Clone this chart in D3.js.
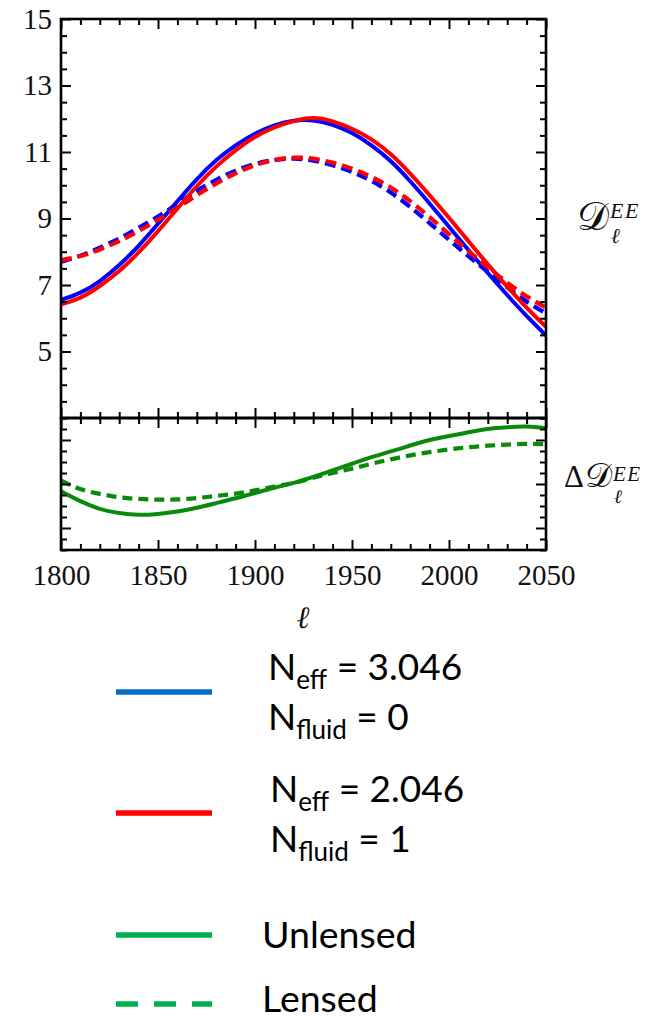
<!DOCTYPE html>
<html><head><meta charset="utf-8">
<script src="https://cdn.jsdelivr.net/npm/d3@7"></script>
<style>
html,body{margin:0;padding:0;background:#fff;}
svg{display:block;}
</style></head>
<body>
<svg id="chart" width="671" height="1020"></svg>
<script>
// ---------- DATA ----------
const ells = [1800,1810,1820,1830,1840,1850,1860,1870,1880,1890,1900,1910,1920,1930,1940,1950,1960,1970,1980,1990,2000,2010,2020,2030,2040,2050];
// D_l^EE, N_eff = 3.046 (blue)
const blueUnlensed = [6.55,6.77,7.12,7.60,8.18,8.84,9.52,10.18,10.75,11.20,11.55,11.80,11.94,11.95,11.82,11.57,11.20,10.72,10.12,9.45,8.75,8.05,7.36,6.70,6.07,5.48];
const blueLensed   = [7.70,7.88,8.12,8.40,8.72,9.06,9.44,9.83,10.16,10.44,10.64,10.76,10.80,10.74,10.60,10.40,10.13,9.78,9.35,8.86,8.36,7.87,7.40,6.93,6.50,6.15];
// D_l^EE, N_eff = 2.046, N_fluid = 1 (red)
const redUnlensed  = [6.42,6.62,6.97,7.42,7.98,8.62,9.30,9.97,10.56,11.05,11.45,11.74,11.93,12.02,11.92,11.70,11.38,10.93,10.35,9.70,9.02,8.32,7.62,6.95,6.32,5.74];
const redLensed    = [7.75,7.87,8.07,8.32,8.62,8.96,9.32,9.70,10.05,10.36,10.60,10.76,10.83,10.80,10.68,10.50,10.25,9.93,9.52,9.04,8.53,8.02,7.53,7.07,6.66,6.32];
// Delta D_l^EE (green)
const diffUnlensed = [-0.33,-0.78,-1.13,-1.32,-1.40,-1.36,-1.25,-1.08,-0.87,-0.65,-0.41,-0.17,0.05,0.32,0.62,0.92,1.22,1.48,1.75,2.00,2.18,2.35,2.50,2.58,2.61,2.53];
const diffLensed   = [0.15,-0.23,-0.45,-0.60,-0.68,-0.71,-0.70,-0.64,-0.54,-0.44,-0.29,-0.12,0.05,0.28,0.50,0.70,0.92,1.12,1.30,1.45,1.57,1.67,1.74,1.79,1.82,1.81];

const xMajorTicks = [1800,1850,1900,1950,2000,2050];
const yMajorTicks = [5,7,9,11,13,15];
const diffMajorTicks = [-2,0,2];

const legendColors = ["#0070C0","#FF0000","#00B050","#00B050"];
const legendDash = [null,null,null,"22,16"];
const legendMain1 = ["N","N"];
const legendSub1 = ["eff","eff"];
const legendRest1 = [" = 3.046"," = 2.046"];
const legendSub2 = ["fluid","fluid"];
const legendRest2 = [" = 0"," = 1"];
const legendWords = ["Unlensed","Lensed"];

// ---------- LAYOUT ----------
const svg = d3.select("#chart");
const L = 61, R = 546, T1 = 19, B1 = 418, T2 = 418, B2 = 550;
const x = d3.scaleLinear().domain([1800,2050]).range([L,R]);
const y1 = d3.scaleLinear().domain([3,15]).range([B1,T1]);
const y2 = d3.scaleLinear().domain([-3,3]).range([B2,T2]);

const serif = "'Liberation Serif','DejaVu Serif',serif";
const tickFont = 29;

svg.append("defs").call(d=>{
  d.append("clipPath").attr("id","c1").append("rect").attr("x",L).attr("y",T1).attr("width",R-L).attr("height",B1-T1);
  d.append("clipPath").attr("id","c2").append("rect").attr("x",L).attr("y",T2).attr("width",R-L).attr("height",B2-T2);
});

function styleAxis(g){
  g.select(".domain").remove();
  g.selectAll("line").attr("stroke","#000").attr("stroke-width",2);
  g.selectAll("text").attr("font-family",serif).attr("font-size",tickFont).attr("fill","#111");
}
const xMinor = d3.range(1800,2051,10).filter(v=>v%50!==0);
const y1Minor = d3.range(3,15.01,0.5).filter(v=>!yMajorTicks.includes(v));
const y2Minor = d3.range(-3,3.01,0.5).filter(v=>!diffMajorTicks.includes(v));

function xAxes(yTop, yBot, labels){
  svg.append("g").attr("transform",`translate(0,${yTop})`)
    .call(d3.axisTop(x).tickValues(xMajorTicks).tickSizeInner(-10).tickSizeOuter(0).tickFormat("")).call(styleAxis);
  svg.append("g").attr("transform",`translate(0,${yTop})`)
    .call(d3.axisTop(x).tickValues(xMinor).tickSizeInner(-6).tickSizeOuter(0).tickFormat("")).call(styleAxis);
  svg.append("g").attr("transform",`translate(0,${yBot})`)
    .call(d3.axisBottom(x).tickValues(xMajorTicks).tickSizeInner(-10).tickSizeOuter(0).tickPadding(14).tickFormat(labels?d3.format("d"):"")).call(styleAxis);
  svg.append("g").attr("transform",`translate(0,${yBot})`)
    .call(d3.axisBottom(x).tickValues(xMinor).tickSizeInner(-6).tickSizeOuter(0).tickFormat("")).call(styleAxis);
}
function yAxes(scale, majors, minors, labels){
  svg.append("g").attr("transform",`translate(${L},0)`)
    .call(d3.axisLeft(scale).tickValues(majors).tickSizeInner(-10).tickSizeOuter(0).tickPadding(9).tickFormat(labels?d3.format("d"):"")).call(styleAxis);
  svg.append("g").attr("transform",`translate(${L},0)`)
    .call(d3.axisLeft(scale).tickValues(minors).tickSizeInner(-6).tickSizeOuter(0).tickFormat("")).call(styleAxis);
  svg.append("g").attr("transform",`translate(${R},0)`)
    .call(d3.axisRight(scale).tickValues(majors).tickSizeInner(-10).tickSizeOuter(0).tickFormat("")).call(styleAxis);
  svg.append("g").attr("transform",`translate(${R},0)`)
    .call(d3.axisRight(scale).tickValues(minors).tickSizeInner(-6).tickSizeOuter(0).tickFormat("")).call(styleAxis);
}

// ---------- CURVES ----------
function drawLine(clip, scale, vals, color, dash, width){
  const line = d3.line().x((d,i)=>x(ells[i])).y(d=>scale(d)).curve(d3.curveNatural);
  svg.append("path").attr("clip-path",`url(#${clip})`)
    .attr("d",line(vals)).attr("fill","none").attr("stroke",color)
    .attr("stroke-width",width).attr("stroke-dasharray",dash).attr("stroke-linecap","butt");
}
drawLine("c1",y1,blueUnlensed,"#0000FF",null,4);
drawLine("c1",y1,blueLensed,"#0000FF","11,6",4.2);
drawLine("c1",y1,redUnlensed,"#FF0000",null,4);
drawLine("c1",y1,redLensed,"#FF0000","11,6",4.2);
drawLine("c2",y2,diffUnlensed,"#0A8A0A",null,4);
drawLine("c2",y2,diffLensed,"#0A8A0A","10,6",4.2);

// ---------- AXES ----------
xAxes(T1, B1, false);
xAxes(T2, B2, true);
yAxes(y1, yMajorTicks, y1Minor, true);
yAxes(y2, diffMajorTicks, y2Minor, false);
svg.append("rect").attr("x",L).attr("y",T1).attr("width",R-L).attr("height",B1-T1).attr("fill","none").attr("stroke","#000").attr("stroke-width",2.6);
svg.append("rect").attr("x",L).attr("y",T2).attr("width",R-L).attr("height",B2-T2).attr("fill","none").attr("stroke","#000").attr("stroke-width",2.6);

// ---------- AXIS TITLES ----------
svg.append("text").attr("x",303).attr("y",628).attr("text-anchor","middle")
  .attr("font-family",serif).attr("font-style","italic").attr("font-size",31).attr("fill","#111").text("ℓ");

function dLabel(x0, base, dSize, supSize, supDy, subSize, subDy, prefix, preSize){
  const g = svg.append("g");
  let cx = x0;
  if(prefix){
    const p = g.append("text").attr("x",cx).attr("y",base).attr("font-family",serif).attr("font-size",preSize).attr("fill","#111").text(prefix);
    cx += p.node().getComputedTextLength() + 1;
  }
  const d = g.append("text").attr("x",cx).attr("y",base).attr("font-family",serif).attr("font-size",dSize).attr("fill","#111").text("𝒟");
  cx += d.node().getComputedTextLength() + 1;
  g.append("text").attr("x",cx).attr("y",base+supDy).attr("font-family",serif).attr("font-style","italic").attr("font-size",supSize).attr("letter-spacing",1.5).attr("fill","#111").text("EE");
  g.append("text").attr("x",cx+1).attr("y",base+subDy).attr("font-family",serif).attr("font-style","italic").attr("font-size",subSize).attr("fill","#111").text("ℓ");
}
dLabel(577, 230, 40, 22, -12, 21, 13, null, 0);
dLabel(564, 487, 34, 21, -6, 19, 16, "Δ", 31);

// ---------- LEGEND ----------
const sans = "Lato,'Open Sans',sans-serif";
const legendLineY = [692,813,935,1004];
legendColors.forEach((c,i)=>{
  svg.append("line").attr("x1",116).attr("x2",212).attr("y1",legendLineY[i]).attr("y2",legendLineY[i])
    .attr("stroke",c).attr("stroke-width",5.5).attr("stroke-dasharray",legendDash[i]);
});
const paramX = [268,270];
const paramY = [[680,730],[802,852]];
legendMain1.forEach((m,i)=>{
  const t1 = svg.append("text").attr("x",paramX[i]).attr("y",paramY[i][0]).attr("font-family",sans).attr("font-size",37).attr("fill","#000");
  t1.append("tspan").text(m);
  t1.append("tspan").attr("font-size",26).attr("dy",9).text(legendSub1[i]);
  t1.append("tspan").attr("dy",-9).text(legendRest1[i]);
  const t2 = svg.append("text").attr("x",paramX[i]).attr("y",paramY[i][1]).attr("font-family",sans).attr("font-size",37).attr("fill","#000");
  t2.append("tspan").text(m);
  t2.append("tspan").attr("font-size",26).attr("dy",9).text(legendSub2[i]);
  t2.append("tspan").attr("dy",-9).text(legendRest2[i]);
});
const wordY = [948,1012];
legendWords.forEach((w,i)=>{
  svg.append("text").attr("x",262).attr("y",wordY[i]).attr("font-family",sans).attr("font-size",37.5).attr("fill","#000").text(w);
});
</script>
</body></html>
